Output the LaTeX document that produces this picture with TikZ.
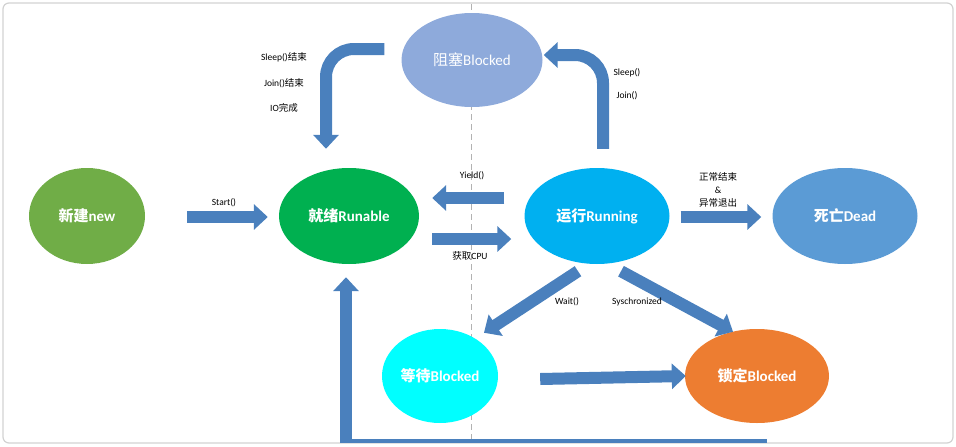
\documentclass[tikz,border=0pt]{standalone}
\usepackage{fontspec}
\setmainfont{Carlito}
\newfontfamily\cjk{Noto Sans CJK SC}
\newcommand{\zh}[1]{{\cjk #1}}
\usepackage{xcolor}
\usepackage{tikz}
\usetikzlibrary{arrows.meta}
\usetikzlibrary{shapes.geometric}
\usetikzlibrary{positioning, calc}

\definecolor{flowblue}{RGB}{74,128,189}
\definecolor{newgreen}{RGB}{112,173,71}
\definecolor{readygreen}{RGB}{0,176,80}
\definecolor{runblue}{RGB}{0,176,240}
\definecolor{deadblue}{RGB}{91,155,213}
\definecolor{blockblue}{RGB}{142,170,219}
\definecolor{waitcyan}{RGB}{0,255,255}
\definecolor{lockorange}{RGB}{237,125,49}

\begin{document}
\begin{tikzpicture}[x=1pt,y=-1pt,
  state/.style={ellipse, inner sep=0pt, text=white,
    font=\fontsize{15}{18}\selectfont\bfseries},
  flow/.style={draw=flowblue, line width=12pt,
    -{Triangle[width=25pt,length=14pt]}},
  lbl/.style={font=\fontsize{9.5}{11}\selectfont, inner sep=1pt}]
  \useasboundingbox (0,0) rectangle (956,447);
  \draw[gray!35, line width=1.2pt, rounded corners=6pt] (3,3) rectangle (953,443);
  \draw[gray!60, dash pattern=on 6pt off 4pt] (471,4) -- (471,442);

  % states
  \node[state, fill=newgreen, minimum width=116pt, minimum height=96pt] (new) at (87,216) {\zh{新建}new};
  \node[state, fill=readygreen, minimum width=140pt, minimum height=96pt] (ready) at (349,216) {\zh{就绪}Runable};
  \node[state, fill=runblue, minimum width=145pt, minimum height=96pt] (run) at (597,216) {\zh{运行}Running};
  \node[state, fill=deadblue, minimum width=145pt, minimum height=96pt] (dead) at (845,216) {\zh{死亡}Dead};
  \node[state, fill=blockblue, font=\fontsize{15}{18}\selectfont, minimum width=141pt, minimum height=94pt] (blocked) at (472,60) {\zh{阻塞}Blocked};
  \node[state, fill=waitcyan, minimum width=116pt, minimum height=94pt] (wait) at (440,376) {\zh{等待}Blocked};
  \node[state, fill=lockorange, minimum width=144pt, minimum height=94pt] (lock) at (757,376) {\zh{锁定}Blocked};

  % transitions
  \draw[flow, shorten <=42pt, shorten >=11pt] ([yshift=-1pt]new.east) -- ([yshift=-1pt]ready.west);
  \draw[flow, shorten <=20pt, shorten >=13pt] ([yshift=18pt]run.west) -- ([yshift=18pt]ready.east);
  \draw[flow, shorten <=13pt, shorten >=13pt] ([yshift=-23pt]ready.east) -- ([yshift=-23pt]run.west);
  \draw[flow, shorten <=11pt, shorten >=11pt] ([yshift=-1pt]run.east) -- ([yshift=-1pt]dead.west);
  \draw[flow, rounded corners=28pt] ([xshift=-17pt,yshift=11pt]blocked.west) -| ([xshift=-23pt,yshift=19pt]ready.north);
  \draw[flow, rounded corners=28pt] ([xshift=6pt,yshift=19pt]run.north) |- ([xshift=1pt,yshift=5pt]blocked.east);
  \draw[flow] ([xshift=-19pt,yshift=-7pt]run.south) -- ([xshift=44pt,yshift=-4pt]wait.north);
  \draw[flow] ([xshift=24pt,yshift=-7pt]run.south) -- ([xshift=-24pt,yshift=-3pt]lock.north);
  \draw[flow] ([xshift=42pt,yshift=-3pt]wait.east) -- ([xshift=1pt]lock.west);
  \begin{scope}
    \clip (0,0) rectangle (956,442);
    \draw[flow] ([xshift=10pt,yshift=-22pt]lock.south) -| ([xshift=-3pt,yshift=-13pt]ready.south);
  \end{scope}

  % labels
  \node[lbl] (sleepend) at (284,57) {Sleep()\zh{结束}};
  \node[lbl] (joinend) at (284,83) {Join()\zh{结束}};
  \node[lbl] (iodone) at (284,108) {IO\zh{完成}};
  \node[lbl] (sleep) at (627,73) {Sleep()};
  \node[lbl] (join) at (627,96) {Join()};
  \node[lbl] (start) at (224,203) {Start()};
  \node[lbl] (yield) at (472,176) {Yield()};
  \node[lbl] (getcpu) at (470,256) {\zh{获取}CPU};
  \node[lbl] (normal) at (718,177) {\zh{正常结束}};
  \node[lbl] (amp) at (718,190) {\&};
  \node[lbl] (abnormal) at (718,203) {\zh{异常退出}};
  \node[lbl] (waitcall) at (567,302) {Wait()};
  \node[lbl] (sync) at (637,302) {Syschronized};
\end{tikzpicture}
\end{document}
